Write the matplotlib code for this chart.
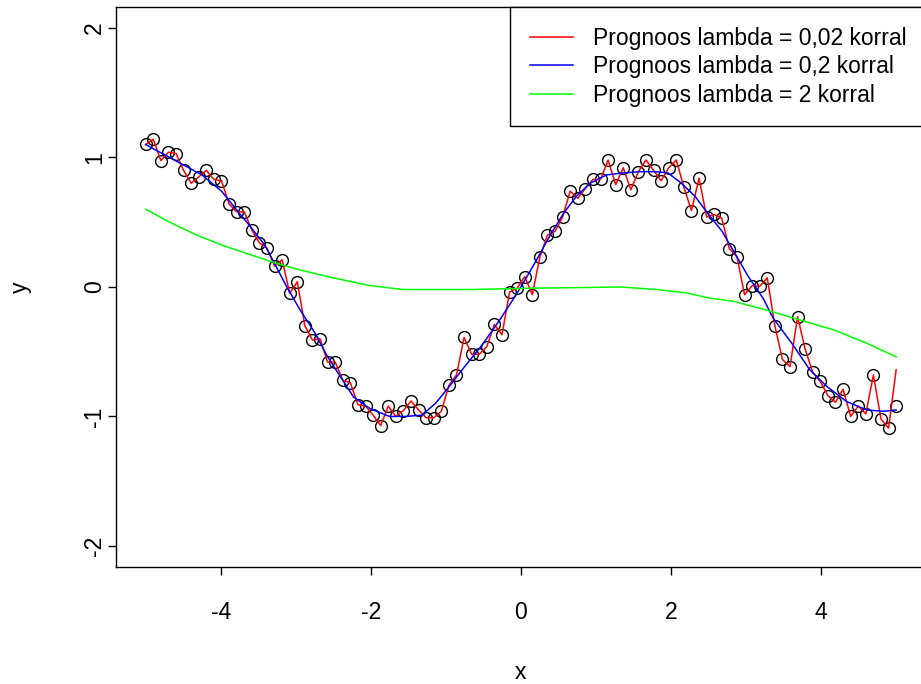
import numpy as np
import matplotlib.pyplot as plt

# observed points on an even grid from -5 to 5
x_obs = np.linspace(-5, 5, 100)
y_obs = [1.10, 1.14, 0.975, 1.04, 1.03, 0.90, 0.80, 0.85, 0.90, 0.83,
         0.82, 0.64, 0.58, 0.58, 0.44, 0.34, 0.30, 0.16, 0.21, -0.05,
         0.04, -0.30, -0.41, -0.40, -0.58, -0.58, -0.72, -0.74, -0.91, -0.92,
         -0.99, -1.07, -0.92, -1.00, -0.955, -0.88, -0.95, -1.01, -1.01, -0.96,
         -0.76, -0.68, -0.39, -0.52, -0.52, -0.46, -0.29, -0.37, -0.04, -0.01,
         0.08, -0.06, 0.23, 0.40, 0.43, 0.54, 0.74, 0.685, 0.76, 0.83,
         0.83, 0.98, 0.79, 0.92, 0.75, 0.89, 0.98, 0.90, 0.82, 0.92,
         0.98, 0.77, 0.59, 0.84, 0.54, 0.56, 0.53, 0.295, 0.235, -0.06,
         0.01, 0.005, 0.07, -0.30, -0.56, -0.615, -0.23, -0.48, -0.66, -0.73,
         -0.84, -0.89, -0.79, -1.00, -0.92, -0.98, -0.68, -1.02, -1.09, -0.92]

# lambda = 0.02 follows the points almost exactly, except at the right end
pred_002 = y_obs[:-1] + [-0.64]

# lambda = 0.2
x_02 = [-5.0, -4.94, -4.65, -4.25, -3.99, -3.81, -3.61, -3.41, -3.30, -3.12,
        -2.94, -2.74, -2.59, -2.41, -2.23, -2.01, -1.75, -1.54, -1.32, -1.14,
        -0.97, -0.75, -0.52, -0.30, -0.08, 0.03, 0.21, 0.39, 0.57, 0.74,
        0.92, 1.14, 1.36, 1.59, 1.79, 1.96, 2.14, 2.32, 2.50, 2.68,
        2.85, 3.03, 3.23, 3.36, 3.61, 3.85, 4.08, 4.34, 4.61, 4.83, 5.0]
pred_02 = [1.10, 1.08, 0.99, 0.865, 0.74, 0.61, 0.47, 0.32, 0.20, 0.0,
           -0.18, -0.36, -0.525, -0.69, -0.85, -0.94, -1.00, -1.00, -0.99, -0.90,
           -0.78, -0.615, -0.45, -0.27, -0.075, 0.03, 0.21, 0.40, 0.57, 0.70,
           0.80, 0.865, 0.88, 0.89, 0.89, 0.88, 0.80, 0.70, 0.56, 0.43,
           0.26, 0.08, -0.09, -0.24, -0.435, -0.64, -0.77, -0.885, -0.95, -0.96, -0.95]

# lambda = 2
x_2 = [-5.0, -4.68, -4.32, -3.97, -3.61, -3.25, -2.90, -2.50, -2.01, -1.57,
       -1.12, -0.68, -0.28, 0.12, 0.79, 1.32, 1.81, 2.21, 2.52, 2.83,
       3.28, 3.72, 4.16, 4.61, 5.0]
pred_2 = [0.60, 0.50, 0.40, 0.32, 0.25, 0.18, 0.125, 0.07, 0.01, -0.02,
          -0.02, -0.02, -0.015, -0.01, -0.005, 0.0, -0.02, -0.047, -0.087, -0.11,
          -0.18, -0.255, -0.33, -0.435, -0.54]

labels = ["Prognoos lambda = 0,02 korral",
          "Prognoos lambda = 0,2 korral",
          "Prognoos lambda = 2 korral"]

plt.rcParams['font.family'] = ['Liberation Sans', 'DejaVu Sans']
plt.rcParams['font.size'] = 16.5
plt.rcParams['axes.unicode_minus'] = False

fig = plt.figure(figsize=(9.21, 6.84), dpi=100)
ax = fig.add_axes([0.1256, 0.1715, 0.880, 0.818])

ax.plot(x_obs, y_obs, 'o', mfc='none', mec='black', ms=8.5, mew=1.0)
ax.plot(x_obs, pred_002, color='#FF0000', lw=1.1, label=labels[0])
ax.plot(x_02, pred_02, color='#0000FF', lw=1.1, label=labels[1])
ax.plot(x_2, pred_2, color='#00FF00', lw=1.1, label=labels[2])

ax.set_xlim(-5.4, 5.4)
ax.set_ylim(-2.16, 2.16)
ax.set_xticks([-4, -2, 0, 2, 4])
ax.set_yticks([-2, -1, 0, 1, 2])
ax.tick_params(direction='out', length=5.5, width=1.0)
ax.tick_params(axis='x', pad=19)
ax.tick_params(axis='y', pad=1.5)
for t in ax.get_yticklabels():
    t.set_rotation(90)
    t.set_va('center')
for s in ax.spines.values():
    s.set_linewidth(1.0)

ax.set_xlabel('x', labelpad=27)
ax.set_ylabel('y', labelpad=37)

leg = ax.legend(loc='upper right', bbox_to_anchor=(1.0, 1.0), borderaxespad=0,
                fancybox=False, edgecolor='black', framealpha=1,
                handlelength=1.9, handletextpad=0.87, borderpad=0.85,
                labelspacing=0.24)
leg.get_frame().set_linewidth(1.0)

fig.savefig('out.png', dpi=100)
